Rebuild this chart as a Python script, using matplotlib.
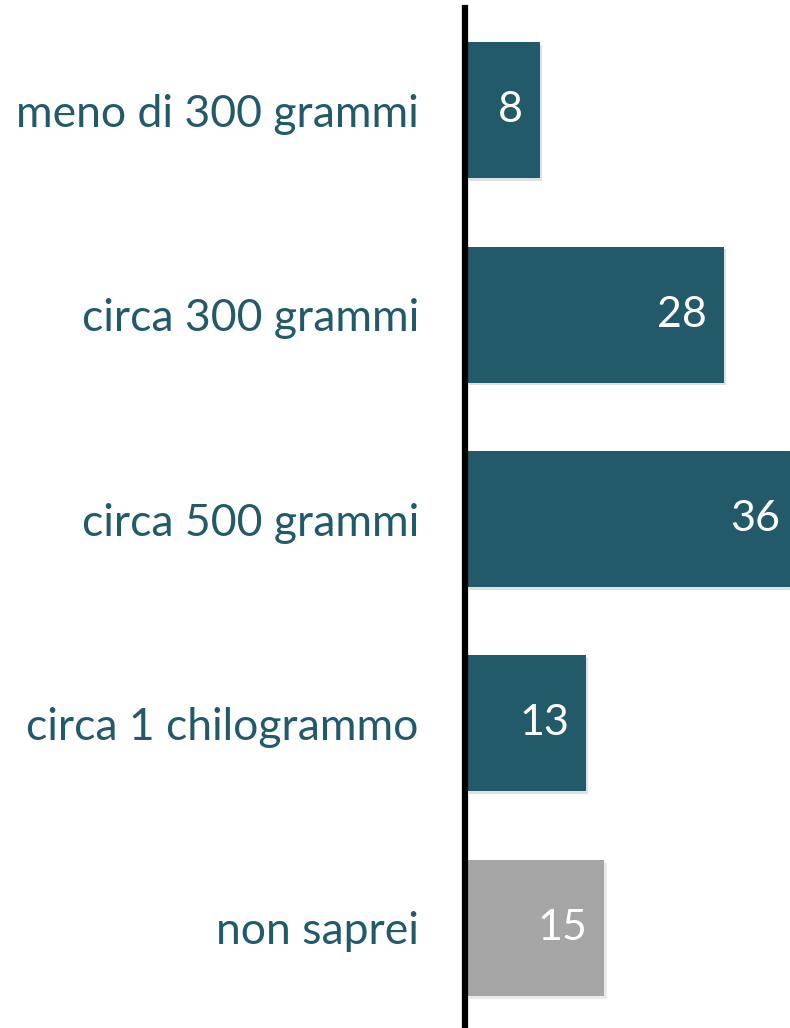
import matplotlib.pyplot as plt
import matplotlib.patheffects as pe

# categories and values
categories = ["meno di 300 grammi", "circa 300 grammi", "circa 500 grammi",
              "circa 1 chilogrammo", "non saprei"]
values = [8, 28, 36, 13, 15]
colors = ["#235A69", "#235A69", "#235A69", "#235A69", "#A5A5A5"]

plt.rcParams["font.family"] = ["Lato", "DejaVu Sans"]

fig = plt.figure(figsize=(7.9, 10.28), dpi=100)
ax = fig.add_axes([466 / 790, -2 / 1028, 324 / 790, 1022 / 1028])

ypos = list(range(len(categories)))
bars = ax.barh(ypos, values, height=0.665, color=colors, left=0)
for b in bars:
    b.set_path_effects([pe.SimplePatchShadow(offset=(2, -2), alpha=0.15, rho=0.7),
                        pe.Normal()])

for y, v in zip(ypos, values):
    ax.annotate(str(v), xy=(v, y), xytext=(-12, 0), textcoords="offset points",
                ha="right", va="center", color="white", fontsize=31,
                annotation_clip=False)

ax.set_xlim(0, 324 / 9.2)
ax.set_ylim(len(categories) - 0.5, -0.5)
for s in ["top", "right", "bottom"]:
    ax.spines[s].set_visible(False)
ax.spines["left"].set_position(("outward", 1))
ax.spines["left"].set_linewidth(4.5)
ax.spines["left"].set_color("black")
ax.spines["left"].set_zorder(5)

ax.set_yticks(ypos)
ax.set_yticklabels(categories, fontsize=32, color="#235A69")
ax.tick_params(axis="y", length=0, pad=33)
ax.set_xticks([])

fig.savefig("out.png", dpi=100)
